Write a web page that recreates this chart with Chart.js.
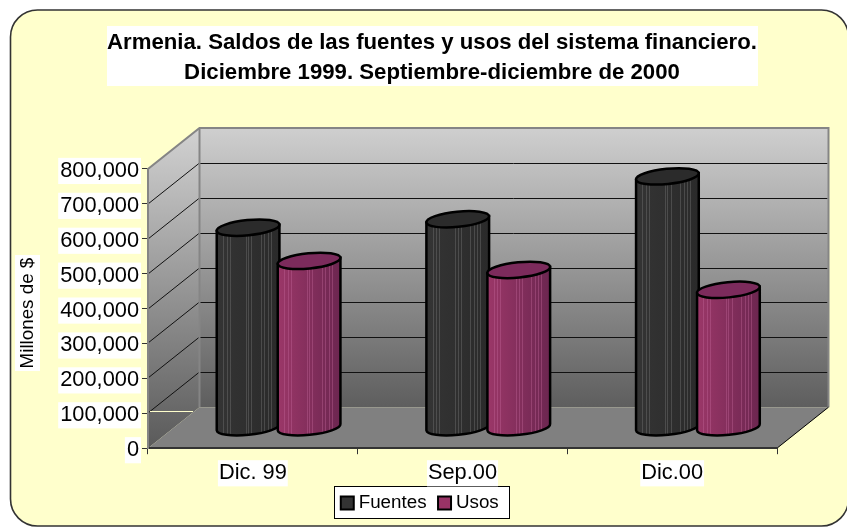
<!DOCTYPE html>
<html><head><meta charset="utf-8">
<style>html,body{margin:0;padding:0;background:#fff}canvas{display:block}</style>
<script src="https://cdn.jsdelivr.net/npm/chart.js@4/dist/chart.umd.min.js"></script>
</head><body><canvas id="c" width="847" height="527"></canvas>
<script>
const categories = ['Dic. 99', 'Sep.00', 'Dic.00'];
const fuentes = [573000, 597000, 720000];
const usos = [478000, 452000, 395000];
const titleLines = ['Armenia. Saldos de las fuentes y usos del sistema financiero.', 'Diciembre 1999. Septiembre-diciembre de 2000'];
const axisTitle = 'Millones de $';

const FONT = '"Liberation Sans", Arial, sans-serif';
const DX = 51.5, DY = 41;
const stripes = [0.10,0.16,0.21,0.46,0.50,0.55,0.70,0.76,0.81,0.86];
const looks = [
  {from:'#343434', to:'#2a2a2a', cap:'#2b2b2b', stripe:'rgba(120,120,120,.4)'},
  {from:'#9b3768', to:'#6c2650', cap:'#7c2b5c', stripe:'rgba(200,110,160,.35)'}
];

function drawCylinder(ctx, cx, topY, baseY, w, look) {
  const a = w / 2, b = 7.6, rot = -0.1;
  const ex = a * Math.cos(rot), ey = a * Math.sin(rot);
  const body = () => {
    ctx.beginPath();
    ctx.moveTo(cx - ex, topY - ey);
    ctx.lineTo(cx - ex, baseY - ey);
    ctx.ellipse(cx, baseY, a, b, rot, Math.PI, 0, true);
    ctx.lineTo(cx + ex, topY + ey);
    ctx.closePath();
  };
  const g = ctx.createLinearGradient(cx - a, 0, cx + a, 0);
  g.addColorStop(0, look.from); g.addColorStop(1, look.to);
  ctx.save();
  body(); ctx.fillStyle = g; ctx.fill();
  ctx.clip();
  ctx.lineWidth = 1; ctx.strokeStyle = look.stripe;
  stripes.forEach(s => {
    const x = Math.round(cx - a + s * w) + .5;
    ctx.beginPath(); ctx.moveTo(x, topY - 12); ctx.lineTo(x, baseY + 12); ctx.stroke();
  });
  ctx.restore();
  ctx.lineWidth = 2.5; ctx.strokeStyle = '#000';
  body(); ctx.stroke();
  ctx.beginPath(); ctx.ellipse(cx, topY, a, b, rot, 0, Math.PI * 2);
  ctx.fillStyle = look.cap; ctx.fill(); ctx.stroke();
}

function nudge(scale, method, dy) {
  const orig = scale[method];
  scale[method] = function () {
    const c = this.ctx; c.save(); c.translate(0, dy); orig.apply(this, arguments); c.restore();
  };
}

const scene = {
  id: 'scene',
  afterLayout(chart) {
    const t = chart.titleBlock, l = chart.legend, s = chart.scales.y, x = chart.scales.x;
    t.left = 107; t.right = 757; t.top = 28;
    l.left = 234; l.right = 610; l.top = 477.5;
    x.bottom = 488;
    if (!s._shifted) {
      s._shifted = true;
      nudge(s, 'drawTitle', 4.5);
      nudge(s, 'drawLabels', 2);
      nudge(x, 'drawLabels', 1);
    }
  },
  beforeDraw(chart) {
    const ctx = chart.ctx, xs = chart.scales.x, ys = chart.scales.y;
    const L = xs.left, R = xs.right, B = ys.bottom, T = ys.top;
    ctx.save();
    ctx.fillStyle = '#fff'; ctx.fillRect(0, 0, 847, 527);
    ctx.beginPath(); ctx.roundRect(10.5, 10, 838, 516, 27);
    ctx.fillStyle = '#FFFFCC'; ctx.fill();
    ctx.lineWidth = 1.6; ctx.strokeStyle = '#333'; ctx.stroke();

    ctx.fillStyle = '#fff';
    ctx.fillRect(107, 26, 651, 60);
    ctx.fillRect(15, 255, 25, 116);
    ctx.fillRect(334, 486, 176, 33);
    ctx.lineWidth = 1; ctx.strokeStyle = '#000';
    ctx.strokeRect(334.5, 486.5, 175, 32);

    const shade = ctx.createLinearGradient(0, T - DY, 0, B - DY);
    shade.addColorStop(0, '#cfcfcf'); shade.addColorStop(1, '#5e5e5e');
    ctx.fillStyle = shade;
    ctx.fillRect(L + DX, T - DY, R - L, B - T);
    const side = ctx.createLinearGradient(0, T - DY, 0, B);
    side.addColorStop(0, '#d2d2d2'); side.addColorStop(1, '#5a5a5a');
    ctx.beginPath(); ctx.moveTo(L, T); ctx.lineTo(L + DX, T - DY); ctx.lineTo(L + DX, B - DY); ctx.lineTo(L, B); ctx.closePath();
    ctx.fillStyle = side; ctx.fill();
    ctx.beginPath(); ctx.moveTo(L, B); ctx.lineTo(L + DX, B - DY); ctx.lineTo(R + DX, B - DY); ctx.lineTo(R, B); ctx.closePath();
    ctx.fillStyle = '#808080'; ctx.fill();

    ys.ticks.forEach(tk => {
      if (tk.value === 0) return;
      const y = Math.round(ys.getPixelForValue(tk.value));
      ctx.lineWidth = 1; ctx.strokeStyle = '#111';
      if (tk.value < ys.max) {
        ctx.beginPath(); ctx.moveTo(L + DX, y - DY + .5); ctx.lineTo(R + DX - 1, y - DY + .5); ctx.stroke();
        ctx.beginPath(); ctx.moveTo(L, y); ctx.lineTo(L + DX, y - DY); ctx.stroke();
      }
    });
    const y100 = ys.getPixelForValue(100000);
    ctx.lineWidth = 1; ctx.strokeStyle = '#FFFFCC';
    ctx.beginPath(); ctx.moveTo(L + 2, Math.round(y100) - 1.5); ctx.lineTo(L + 45, Math.round(y100) - 1.5); ctx.stroke();

    ctx.lineWidth = 2; ctx.strokeStyle = '#858585';
    ctx.beginPath(); ctx.moveTo(L, B); ctx.lineTo(L, T); ctx.lineTo(L + DX, T - DY); ctx.lineTo(R + DX, T - DY); ctx.lineTo(R + DX, B - DY); ctx.stroke();
    ctx.beginPath(); ctx.moveTo(L + DX, T - DY); ctx.lineTo(L + DX, B - DY); ctx.stroke();
    ctx.lineWidth = 1; ctx.strokeStyle = '#000';
    ctx.beginPath(); ctx.moveTo(R, B); ctx.lineTo(R + DX, B - DY); ctx.stroke();
    ctx.restore();
  },
  beforeDatasetsDraw(chart) {
    const ctx = chart.ctx;
    [0, 1].forEach(d => {
      chart.getDatasetMeta(d).data.forEach(bar => {
        drawCylinder(ctx, bar.x + DX / 2, bar.y - DY / 2, bar.base - DY / 2, bar.width + 2, looks[d]);
      });
    });
    return false;
  }
};

new Chart(document.getElementById('c').getContext('2d'), {
  type: 'bar',
  plugins: [scene],
  data: {
    labels: categories,
    datasets: [
      {label: 'Fuentes', data: fuentes, backgroundColor: '#333333', borderColor: '#000', borderWidth: 2},
      {label: 'Usos', data: usos, backgroundColor: '#993366', borderColor: '#000', borderWidth: 2}
    ]
  },
  options: {
    responsive: false,
    animation: false,
    devicePixelRatio: 1,
    layout: {padding: {left: 14, right: 70, top: 26, bottom: 0}},
    datasets: {bar: {categoryPercentage: 0.582, barPercentage: 1}},
    plugins: {
      tooltip: {enabled: false},
      title: {
        display: true, text: titleLines, color: '#000',
        font: {family: FONT, size: 22.2, weight: 'bold', lineHeight: 1.35},
        padding: {top: 0, bottom: 83}
      },
      legend: {
        position: 'bottom',
        labels: {
          font: {family: FONT, size: 18.8}, color: '#000',
          usePointStyle: true, pointStyle: 'rect', boxWidth: 4, boxHeight: 13, padding: 16
        }
      }
    },
    scales: {
      x: {
        afterFit(s) { s.height = 34; },
        grid: {drawOnChartArea: false, drawTicks: true, tickLength: 6, color: '#333', offset: true},
        border: {color: '#333', width: 2},
        ticks: {
          font: {family: FONT, size: 21.8}, color: '#000', padding: 5, maxRotation: 0,
          showLabelBackdrop: true, backdropColor: '#fff', backdropPadding: {x: 1, y: 0}
        }
      },
      y: {
        min: 0, max: 800000,
        afterFit(s) { s.width = 134; },
        title: {display: true, text: axisTitle, color: '#000', font: {family: FONT, size: 18.8}, padding: {top: 3, bottom: 0}},
        grid: {drawOnChartArea: false, tickLength: 6, color: '#333'},
        border: {color: '#858585', width: 2},
        ticks: {
          stepSize: 100000, font: {family: FONT, size: 21.8}, color: '#000', padding: 3,
          callback: v => v.toLocaleString('en-US'),
          showLabelBackdrop: true, backdropColor: '#fff', backdropPadding: {x: 2, y: 0}
        }
      }
    }
  }
});
</script></body></html>
